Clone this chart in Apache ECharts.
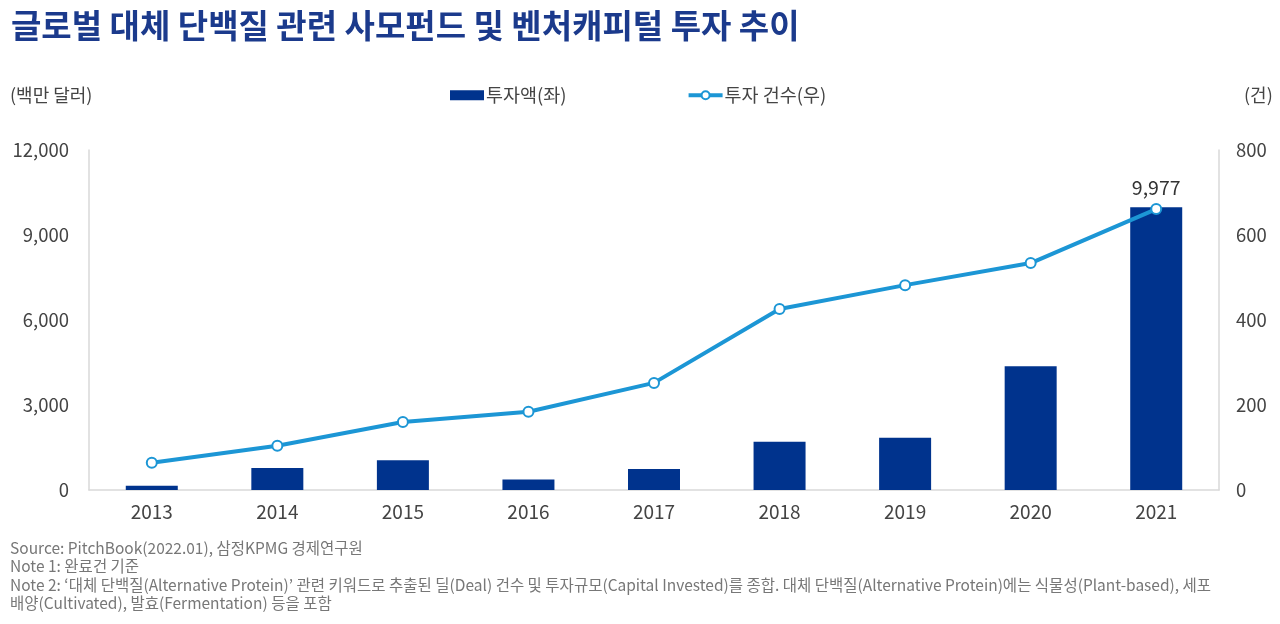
<!DOCTYPE html>
<html><head><meta charset="utf-8">
<script src="https://cdn.jsdelivr.net/npm/echarts@6/dist/echarts.min.js"></script>
<style>html,body{margin:0;padding:0;background:#fff}#c{width:1280px;height:624px}</style>
</head><body><div id="c"></div>
<script>
const categories = ['2013','2014','2015','2016','2017','2018','2019','2020','2021'];
const investAmount = [150, 780, 1050, 370, 740, 1700, 1840, 4370, 9977];
const dealCount = [64, 104, 160, 184, 252, 426, 482, 534, 661];
const leftTicks = [0, 3000, 6000, 9000, 12000];
const rightTicks = [0, 200, 400, 600, 800];
const notes = [
  'Source: PitchBook(2022.01), 삼정KPMG 경제연구원',
  'Note 1: 완료건 기준',
  "Note 2: ‘대체 단백질(Alternative Protein)’ 관련 키워드로 추출된 딜(Deal) 건수 및 투자규모(Capital Invested)를 종합. 대체 단백질(Alternative Protein)에는 식물성(Plant-based), 세포",
  '배양(Cultivated), 발효(Fermentation) 등을 포함'
];
const FONT = '"Noto Sans CJK KR", "Noto Sans", sans-serif';
const chart = echarts.init(document.getElementById('c'));
chart.setOption({
  backgroundColor: '#fff',
  textStyle: { fontFamily: FONT },
  title: {
    text: '글로벌 대체 단백질 관련 사모펀드 및 벤처캐피털 투자 추이',
    left: 6, top: 4,
    textStyle: { fontFamily: FONT, fontSize: 33, fontWeight: 'bold', color: '#1b3a8c' }
  },
  legend: {
    top: 86, left: 450, itemGap: 120, padding: 0,
    itemWidth: 34, itemHeight: 10,
    textStyle: { fontFamily: FONT, fontSize: 18.5, color: '#444', padding: [0,0,0,-3] },
    data: [
      { name: '투자액(좌)', icon: 'rect' },
      { name: '투자 건수(우)', itemStyle: { borderWidth: 2 }, lineStyle: { width: 4 } }
    ]
  },
  grid: { left: 89, right: 61, top: 150, bottom: 134, containLabel: false },
  xAxis: {
    type: 'category', data: categories,
    axisLine: { lineStyle: { color: '#d9d9d9', width: 1.5 } },
    axisTick: { show: false },
    axisLabel: { fontFamily: FONT, fontSize: 19, color: '#444', margin: 12 }
  },
  yAxis: [
    {
      type: 'value', min: 0, max: 12000, interval: 3000,
      name: '(백만 달러)', nameLocation: 'end', nameGap: 46,
      nameTextStyle: { fontFamily: FONT, fontSize: 18, color: '#444', align: 'left', padding: [0,0,0,-79] },
      axisLine: { show: true, lineStyle: { color: '#d9d9d9', width: 1.5 } },
      axisTick: { show: false }, splitLine: { show: false },
      axisLabel: { fontFamily: FONT, fontSize: 18.5, color: '#444', margin: 20,
        formatter: v => v.toLocaleString('en-US') }
    },
    {
      type: 'value', min: 0, max: 800, interval: 200,
      name: '(건)', nameLocation: 'end', nameGap: 46,
      nameTextStyle: { fontFamily: FONT, fontSize: 18, color: '#444', align: 'left', padding: [0,0,0,25] },
      axisLine: { show: true, lineStyle: { color: '#d9d9d9', width: 1.5 } },
      axisTick: { show: false }, splitLine: { show: false },
      axisLabel: { fontFamily: FONT, fontSize: 18.5, color: '#444', margin: 17 }
    }
  ],
  series: [
    {
      name: '투자액(좌)', type: 'bar', data: investAmount, barWidth: 52,
      itemStyle: { color: '#00338d' },
      label: {
        show: true, position: 'top', distance: 10, fontFamily: FONT, fontSize: 19.5, color: '#333',
        formatter: p => p.dataIndex === investAmount.length - 1 ? p.value.toLocaleString('en-US') : ''
      }
    },
    {
      name: '투자 건수(우)', type: 'line', yAxisIndex: 1, data: dealCount,
      symbol: 'circle', symbolSize: 10,
      lineStyle: { color: '#1c96d5', width: 4 },
      itemStyle: { color: '#fff', borderColor: '#1c96d5', borderWidth: 2 }
    }
  ],
  graphic: notes.map((t, i) => ({
    type: 'text', left: 10, top: 540 + i * 18.5,
    style: { text: t, fontFamily: FONT, fontSize: 15.5, fill: '#777' }
  }))
});
</script></body></html>
